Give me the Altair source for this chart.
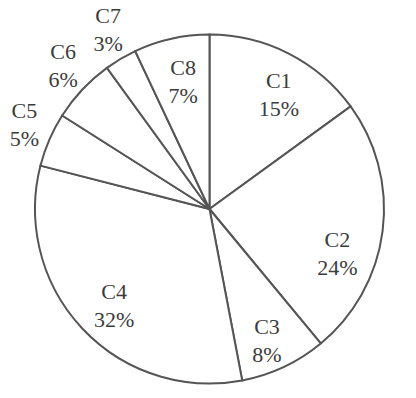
import altair as alt
import pandas as pd

categories = ["C1", "C2", "C3", "C4", "C5", "C6", "C7", "C8"]
percents = [15, 24, 8, 32, 5, 6, 3, 7]
outside = [0, 0, 0, 0, 1, 1, 1, 0]

df = pd.DataFrame({
    "cat": categories,
    "pct": percents,
    "order": list(range(len(categories))),
    "outside": outside,
})
df["label"] = [f"{c}\n{p}%" for c, p in zip(categories, percents)]

cx, cy, R = 201.5, 201, 174.5
theta_scale = alt.Scale(domain=[0, 100], range=[0, 6.283185307179586])

base = alt.Chart(df).transform_window(
    cum="sum(pct)", sort=[alt.SortField("order")], frame=[None, 0]
).transform_calculate(
    start="datum.cum - datum.pct",
    mid="datum.cum - datum.pct / 2",
).encode(
    x=alt.value(cx),
    y=alt.value(cy),
)

arcs = base.mark_arc(
    outerRadius=R, fill="white", stroke="#555555", strokeWidth=2
).encode(
    theta=alt.Theta("start:Q", scale=theta_scale, stack=False),
    theta2="cum:Q",
)


def label_layer(cats, dx, dy):
    return base.transform_filter(
        alt.FieldOneOfPredicate(field="cat", oneOf=cats)
    ).mark_text(
        font="Liberation Serif", fontSize=22, lineHeight=28, color="#3c3c3c",
        lineBreak="\n", align="center", baseline="middle", dx=dx, dy=dy,
    ).encode(
        theta=alt.Theta("mid:Q", scale=theta_scale, stack=False),
        radius=alt.Radius("outside:Q", scale=alt.Scale(domain=[0, 1], range=[135, 205], zero=False)),
        text="label:N",
    )


layers = [
    arcs,
    label_layer(["C1"], 8, -8),
    label_layer(["C2"], -6, 14),
    label_layer(["C3"], 0, -4),
    label_layer(["C4", "C8"], 3, -9),
    label_layer(["C5", "C6", "C7"], 3, -17),
]

chart = alt.layer(*layers).properties(
    width=400, height=385, padding=0,
    autosize=alt.AutoSizeParams(type="none"),
).configure_view(stroke=None)

chart.save("out.html", embed_options={"renderer": "svg", "actions": False})
